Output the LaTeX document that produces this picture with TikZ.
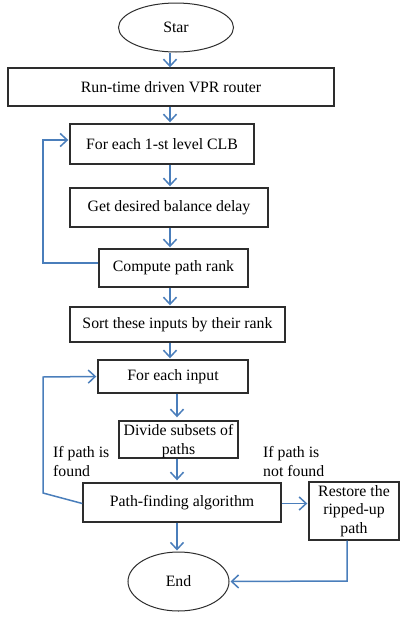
\documentclass[tikz,border=0pt]{standalone}
\usepackage{fontspec}
\setmainfont{Liberation Serif}
\usetikzlibrary{arrows.meta,shapes.geometric}
\definecolor{flowblue}{RGB}{74,126,187}
\definecolor{boxgray}{RGB}{45,45,45}
\begin{document}
\begin{tikzpicture}[x=1pt, y=-1pt,
    font=\fontsize{15.8}{18.5}\selectfont,
    stepbox/.style={draw=boxgray, line width=1.4pt, rectangle, inner sep=0pt},
    term/.style={draw=boxgray, line width=1pt, ellipse, inner sep=0pt},
    note/.style={inner sep=0pt, align=left, anchor=west},
    arr/.style={flowblue, line width=1.5pt, -{Straight Barb[length=7pt, width=13pt]}},
    link/.style={flowblue, line width=1.5pt}]
        \useasboundingbox (0, 0) rectangle (401, 627);
        
        % Terminals
        \node[term, minimum width=115, minimum height=49] (start) at (176, 27.5) {Star};
        \node[term, minimum width=101, minimum height=59] (end) at (178.5, 581.5) {End};
        
        % Steps
        \node[stepbox, minimum width=326, minimum height=38] (vpr) at (171, 87) {Run-time driven VPR router};
        \node[stepbox, minimum width=184, minimum height=40] (clb) at (162, 144) {For each 1-st level CLB};
        \node[stepbox, minimum width=198, minimum height=39] (delay) at (169, 207.5) {Get desired balance delay};
        \node[stepbox, minimum width=149, minimum height=38] (rank) at (173.5, 268) {Compute path rank};
        \node[stepbox, minimum width=215, minimum height=35] (sort) at (177.5, 324.5) {Sort these inputs by their rank};
        \node[stepbox, minimum width=150, minimum height=33] (input) at (173, 376.5) {For each input};
        \node[stepbox, minimum width=119, minimum height=37] (divide) at (178.5, 439.5) {};
        \node[inner sep=0pt, align=center] (dividetxt) at (178.5, 441) {Divide subsets of\\paths};
        \node[stepbox, minimum width=198, minimum height=39] (pathfind) at (182, 502.5) {Path-finding algorithm};
        \node[stepbox, minimum width=90, minimum height=58, align=center] (restore) at (354, 511) {Restore the\\ripped-up\\path};
        
        % Labels
        \node[note] (found) at (53, 461.5) {If path is\\found};
        \node[note] (notfound) at (263, 461.5) {If path is\\not found};
        
        % Main flow
        \draw[arr] (start.south -| 170, 0) -- (vpr.north -| 170, 0);
        \draw[arr] (vpr.south -| 170, 0) -- ([yshift=1pt]clb.north -| 170, 0);
        \draw[arr] (clb.south -| 170, 0) -- ([yshift=1pt]delay.north -| 170, 0);
        \draw[arr] (delay.south -| 170, 0) -- ([yshift=1pt]rank.north -| 170, 0);
        \draw[arr] (rank.south -| 170, 0) -- ([yshift=1pt]sort.north -| 170, 0);
        \draw[arr] (sort.south -| 170, 0) -- ([yshift=1pt]input.north -| 170, 0);
        \draw[arr] (input.south -| 177, 0) -- ([yshift=3pt]divide.north -| 177, 0);
        \draw[arr] (divide.south -| 177, 0) -- ([yshift=2pt]pathfind.north -| 177, 0);
        \draw[arr] (pathfind.south -| 177, 0) -- ([yshift=1pt]end.north -| 177, 0);
        
        % Loops
        \draw[arr] ([yshift=5pt]rank.west) -- (43, 263) -- (43, 140) -- ([yshift=4pt, xshift=-1pt]clb.west);
        \draw[arr] ([yshift=-1pt]pathfind.west) -- (43, 493) -- (43, 377) -- ([xshift=-1pt]input.west);
        
        % Not found
        \draw[arr] ([yshift=-1pt]pathfind.east) -- ([yshift=-1pt, xshift=-1pt]pathfind.east -| restore.west);
        \draw[arr] (restore.south -| 347, 0) -- (347, 581) -- ([xshift=1pt]end.east);
        
    \end{tikzpicture}
\end{document}
